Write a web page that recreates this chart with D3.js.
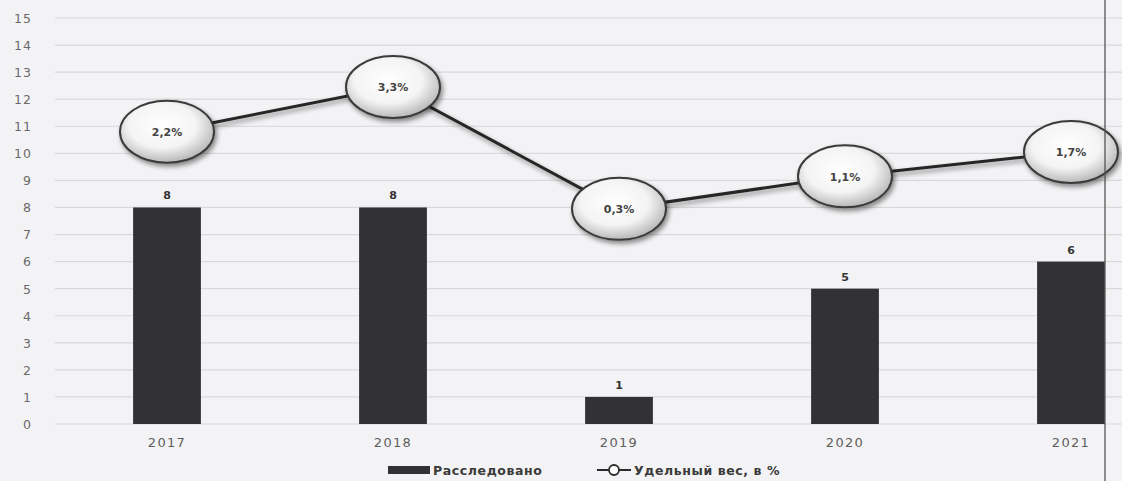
<!DOCTYPE html>
<html><head><meta charset="utf-8">
<script src="https://cdn.jsdelivr.net/npm/d3@7/dist/d3.min.js"></script>
<style>
html,body{margin:0;padding:0;background:#f3f3f5;}
svg{display:block;}
</style></head>
<body>
<svg id="c" width="1122" height="481"></svg>
<script>
const years = ["2017","2018","2019","2020","2021"];
const investigated = [8, 8, 1, 5, 6];
const sharePct = [2.2, 3.3, 0.3, 1.1, 1.7];
const shareLabels = ["2,2%","3,3%","0,3%","1,1%","1,7%"];
const yTicks = d3.range(0, 16);
const legendLabels = ["Расследовано", "Удельный вес, в %"];

const svg = d3.select("#c");
const W = 1122, H = 481;

svg.append("rect").attr("width", W).attr("height", H).attr("fill", "#f3f3f5");

const defs = svg.append("defs");
const rg = defs.append("radialGradient").attr("id","eg").attr("cx","45%").attr("cy","40%").attr("r","60%");
rg.append("stop").attr("offset","0%").attr("stop-color","#ffffff");
rg.append("stop").attr("offset","60%").attr("stop-color","#f4f4f4");
rg.append("stop").attr("offset","100%").attr("stop-color","#b8b8b8");
const sh = defs.append("filter").attr("id","sh").attr("x","-20%").attr("y","-20%").attr("width","150%").attr("height","160%");
sh.append("feGaussianBlur").attr("in","SourceAlpha").attr("stdDeviation",2.5).attr("result","b");
sh.append("feOffset").attr("in","b").attr("dx",2).attr("dy",3).attr("result","o");
sh.append("feComponentTransfer").attr("in","o").attr("result","o2").append("feFuncA").attr("type","linear").attr("slope",0.45);
const m = sh.append("feMerge");
m.append("feMergeNode").attr("in","o2");
m.append("feMergeNode").attr("in","SourceGraphic");

const x = d3.scaleBand().domain(years).range([54, 1184]).paddingInner(0.7).paddingOuter(0.35);
const y = d3.scaleLinear().domain([0, 15]).range([424, 18]);
const y2 = d3.scaleLinear().domain([-5, 5]).range([424, 18]);

// gridlines
svg.append("g").selectAll("line").data(yTicks).join("line")
  .attr("x1", 55).attr("x2", W)
  .attr("y1", d => y(d)).attr("y2", d => y(d))
  .attr("stroke", "#d9d9dc").attr("stroke-width", 1.2);

// y axis labels
const yAxis = d3.axisLeft(y).tickValues(yTicks).tickSize(0).tickPadding(0);
const ga = svg.append("g").attr("transform", "translate(32,0)").call(yAxis);
ga.select(".domain").remove();
ga.selectAll("text").attr("font-family","DejaVu Sans").attr("font-size", 12.5)
  .attr("fill", "#6a6a6a").attr("letter-spacing", 1).attr("dy","0.35em");

// bars
svg.append("g").selectAll("rect").data(years).join("rect")
  .attr("x", d => x(d)).attr("width", x.bandwidth())
  .attr("y", (d,i) => y(investigated[i])).attr("height", (d,i) => y(0) - y(investigated[i]))
  .attr("fill", "#323236");

// bar labels
svg.append("g").selectAll("text").data(years).join("text")
  .attr("x", d => x(d) + x.bandwidth()/2)
  .attr("y", (d,i) => y(investigated[i]) - 8)
  .attr("text-anchor","middle").attr("font-family","DejaVu Sans").attr("font-weight","bold")
  .attr("font-size", 11).attr("fill","#333").text((d,i) => investigated[i]);

// x labels
const xAxis = d3.axisBottom(x).tickSize(0).tickPadding(0);
const gx = svg.append("g").attr("transform","translate(0,438)").call(xAxis);
gx.select(".domain").remove();
gx.selectAll("text").attr("font-family","DejaVu Sans").attr("font-size", 13)
  .attr("fill","#5e5e5e").attr("letter-spacing", 1.3).attr("dy","0.71em");

// line
const cx = d => x(d) + x.bandwidth()/2;
const line = d3.line().x((d,i) => cx(years[i])).y(d => y2(d));
svg.append("path").datum(sharePct).attr("d", line)
  .attr("fill","none").attr("stroke","#262626").attr("stroke-width", 3).attr("filter","url(#sh)");

// ellipses
const eg = svg.append("g").selectAll("g").data(years).join("g")
  .attr("transform", (d,i) => `translate(${cx(d)},${y2(sharePct[i])})`);
eg.append("ellipse").attr("rx", 47).attr("ry", 31)
  .attr("fill","url(#eg)").attr("stroke","#3a3a3a").attr("stroke-width", 2).attr("filter","url(#sh)");
eg.append("text").attr("text-anchor","middle").attr("dy","0.38em")
  .attr("font-family","DejaVu Sans").attr("font-weight","bold").attr("font-size", 11)
  .attr("fill","#444").text((d,i) => shareLabels[i]);

// legend
const lg = svg.append("g");
lg.append("rect").attr("x", 388).attr("y", 466).attr("width", 42).attr("height", 8).attr("fill","#323236");
lg.append("text").attr("x", 433).attr("y", 475).attr("font-family","DejaVu Sans").attr("font-weight","bold")
  .attr("font-size", 12.5).attr("fill","#3a3a3a").attr("letter-spacing", 0.6).text(legendLabels[0]);
lg.append("line").attr("x1", 597).attr("x2", 631).attr("y1", 470).attr("y2", 470).attr("stroke","#2a2a2a").attr("stroke-width", 2);
lg.append("circle").attr("cx", 614).attr("cy", 470).attr("r", 5).attr("fill","#fff").attr("stroke","#2a2a2a").attr("stroke-width", 1.8);
lg.append("text").attr("x", 634).attr("y", 475).attr("font-family","DejaVu Sans").attr("font-weight","bold")
  .attr("font-size", 12.5).attr("fill","#3a3a3a").attr("letter-spacing", 0.6).text(legendLabels[1]);

// page edge line from scan
svg.append("line").attr("x1", 1105).attr("x2", 1105).attr("y1", 0).attr("y2", H)
  .attr("stroke","#555").attr("stroke-width", 1.3);
</script>
</body></html>
